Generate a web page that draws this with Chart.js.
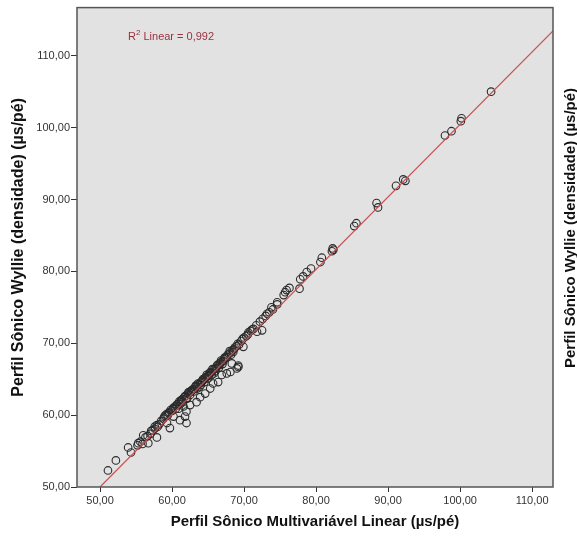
<!DOCTYPE html>
<html lang="en">
<head>
    <meta charset="UTF-8">
    <title>Perfil Sônico Wyllie x Multivariável</title>
    <style>
        body {
            margin: 0;
            background-color: #fff;
        }
        #wrap {
            width: 577px;
            height: 536px;
        }
    </style>
    <script src="https://cdn.jsdelivr.net/npm/chart.js"></script>
</head>
<body>
    <div id="wrap"><canvas id="scatterChart" width="577" height="536"></canvas></div>
    <script>
        // multivariate linear sonic (x) vs Wyllie density sonic (y)
        const sonicMulti = [
            51.1, 52.2, 53.9, 54.3, 55.3, 56.7, 57.9, 57.6, 59.7, 59.3,
            60.2, 60.9, 61.1, 61.8, 62.0, 62.0, 61.3, 61.6, 62.5, 63.4,
            63.9, 64.6, 65.3, 65.7, 66.4, 66.9, 67.6, 68.1, 68.3, 69.2,
            69.0, 69.2, 68.5, 69.9, 71.8, 72.5, 73.2, 73.8, 74.6, 75.5,
            75.7, 75.9, 76.3, 77.7, 77.8, 78.2, 78.7, 79.3, 80.6, 80.8,
            82.2, 82.3, 82.4, 85.3, 85.6, 88.4, 88.6, 91.1, 92.1, 92.4,
            97.9, 98.8, 100.1, 100.2, 104.3, 56.0,
            55.2, 55.6, 55.9, 56.3, 56.6, 57.0, 57.3, 57.6, 57.9, 58.2,
            58.5, 58.8, 59.0, 59.2, 59.4, 59.6, 59.8, 60.0, 60.2, 60.4,
            60.5, 60.7, 60.9, 61.0, 61.2, 61.4, 61.5, 61.7, 61.9, 62.0,
            62.2, 62.4, 62.5, 62.7, 62.9, 63.0, 63.2, 63.4, 63.5, 63.7,
            63.9, 64.0, 64.2, 64.4, 64.5, 64.7, 64.9, 65.0, 65.2, 65.4,
            65.5, 65.7, 65.9, 66.0, 66.2, 66.4, 66.5, 66.7, 66.9, 67.0,
            67.2, 67.4, 67.6, 67.9, 68.1, 68.4, 68.7, 69.0, 69.3, 69.6,
            70.0, 70.3, 70.6, 70.9, 71.3, 71.7, 72.2, 72.6, 73.0, 73.5,
            74.0, 74.6, 61.1, 62.1, 63.1, 64.1, 65.1, 66.1, 67.1, 62.6,
            64.6, 66.6, 68.2, 63.8, 65.8,
            57.1, 58.0, 58.9, 59.5, 60.1, 60.6, 61.3, 61.8, 62.3, 62.8,
            63.3, 63.6, 64.3, 64.8, 65.3, 65.6, 66.3, 66.8, 67.3, 67.7,
            68.0, 68.6, 69.1, 69.8, 70.5, 71.1
        ];
        const sonicWyllie = [
            52.3, 53.7, 55.5, 54.8, 56.1, 56.1, 56.9, 58.4, 58.2, 58.9,
            59.8, 60.9, 59.3, 59.8, 60.5, 58.9, 61.8, 61.2, 61.4, 61.8,
            62.5, 63.0, 63.7, 64.4, 64.6, 65.6, 65.8, 66.0, 67.2, 66.9,
            66.5, 66.7, 68.8, 69.5, 71.6, 71.8, 74.1, 75.0, 75.7, 76.7,
            77.1, 77.4, 77.7, 77.6, 78.9, 79.3, 79.9, 80.4, 81.3, 81.9,
            82.8, 83.2, 83.0, 86.3, 86.7, 89.5, 88.9, 91.9, 92.8, 92.6,
            98.9, 99.5, 100.9, 101.3, 105.0, 57.2,
            55.8, 56.3, 56.0, 56.9, 57.1, 57.4, 57.9, 58.1, 58.6, 58.7,
            59.2, 59.5, 59.9, 60.1, 60.0, 60.4, 60.7, 60.6, 61.0, 61.2,
            60.9, 61.5, 61.6, 61.9, 62.0, 62.2, 61.8, 62.5, 62.7, 62.4,
            63.0, 63.1, 62.8, 63.4, 63.6, 63.3, 63.9, 64.0, 63.7, 64.3,
            64.5, 64.2, 64.8, 64.9, 64.6, 65.3, 65.4, 65.1, 65.8, 65.9,
            65.6, 66.3, 66.4, 66.1, 66.8, 66.9, 66.6, 67.3, 67.4, 67.1,
            67.8, 67.9, 68.1, 68.5, 68.7, 69.0, 69.4, 69.6, 69.8, 70.3,
            70.8, 71.0, 71.5, 71.7, 72.0, 72.5, 73.0, 73.4, 73.8, 74.3,
            74.7, 75.4, 61.5, 62.3, 63.6, 64.6, 65.5, 66.5, 67.5, 63.3,
            65.1, 67.0, 68.4, 63.9, 65.8,
            57.8, 58.4, 59.7, 60.3, 60.9, 61.3, 62.1, 62.6, 63.2, 63.5,
            64.1, 64.4, 65.0, 65.6, 66.0, 66.4, 67.0, 67.6, 68.0, 68.4,
            68.9, 69.2, 69.9, 70.6, 71.2, 71.9
        ];

        // fit line end points (R2 linear)
        const fitX = [50.0, 112.9];
        const fitY = [50.0, 113.45];

        const xTicks = [50, 60, 70, 80, 90, 100, 110];
        const yTicks = [50, 60, 70, 80, 90, 100, 110];

        const points = sonicMulti.map((x, i) => ({ x: x, y: sonicWyllie[i] }));
        const fitPoints = fitX.map((x, i) => ({ x: x, y: fitY[i] }));

        const fmt = v => v.toFixed(2).replace('.', ',');
        const yTitle = 'Perfil Sônico Wyllie (densidade) (µs/pé)';

        // plot background, frame, R2 label, and the clipped title of the next chart
        const decor = {
            id: 'decor',
            beforeDatasetsDraw(chart) {
                const { ctx, chartArea: a } = chart;
                ctx.save();
                ctx.fillStyle = '#e2e2e2';
                ctx.fillRect(a.left, a.top, a.right - a.left, a.bottom - a.top);
                ctx.restore();
            },
            afterDatasetsDraw(chart) {
                const { ctx, chartArea: a } = chart;
                ctx.save();
                ctx.strokeStyle = '#555';
                ctx.lineWidth = 1.5;
                ctx.strokeRect(a.left, a.top, a.right - a.left, a.bottom - a.top);

                ctx.fillStyle = '#9b3040';
                ctx.textBaseline = 'alphabetic';
                ctx.font = '11px Arial, "Liberation Sans"';
                let x = 128;
                ctx.fillText('R', x, 40);
                x += ctx.measureText('R').width;
                ctx.font = '8px Arial, "Liberation Sans"';
                ctx.fillText('2', x, 35);
                x += ctx.measureText('2').width;
                ctx.font = '11px Arial, "Liberation Sans"';
                ctx.fillText(' Linear = 0,992', x, 40);

                ctx.translate(571, 228);
                ctx.rotate(-Math.PI / 2);
                ctx.fillStyle = '#111';
                ctx.font = 'bold 15px Arial, "Liberation Sans"';
                ctx.textAlign = 'center';
                ctx.textBaseline = 'middle';
                ctx.fillText(yTitle, 0, 0);
                ctx.restore();
            }
        };

        const ctx = document.getElementById('scatterChart').getContext('2d');
        new Chart(ctx, {
            type: 'scatter',
            data: {
                datasets: [{
                    type: 'line',
                    data: fitPoints,
                    borderColor: '#c8504f',
                    borderWidth: 1.2,
                    pointRadius: 0,
                    fill: false
                }, {
                    data: points,
                    pointStyle: 'circle',
                    pointRadius: 3.8,
                    borderColor: '#2b2b2b',
                    borderWidth: 1.1,
                    backgroundColor: 'rgba(0,0,0,0)'
                }]
            },
            options: {
                responsive: false,
                animation: false,
                layout: { padding: { top: 7, right: 24, left: 0, bottom: 0 } },
                plugins: {
                    legend: { display: false },
                    tooltip: { enabled: false }
                },
                scales: {
                    x: {
                        type: 'linear',
                        min: 46.8,
                        max: 112.9,
                        afterFit: s => { s.height = 49; },
                        afterBuildTicks: s => { s.ticks = xTicks.map(v => ({ value: v })); },
                        grid: { drawOnChartArea: false, drawTicks: true, tickLength: 5, color: '#333' },
                        border: { display: false },
                        ticks: {
                            padding: 2,
                            color: '#333',
                            font: { family: 'Arial, "Liberation Sans"', size: 11 },
                            callback: v => fmt(v)
                        },
                        title: {
                            display: true,
                            text: 'Perfil Sônico Multivariável Linear (µs/pé)',
                            color: '#111',
                            font: { family: 'Arial, "Liberation Sans"', size: 15, weight: 'bold' },
                            padding: { top: 0, bottom: 5 }
                        }
                    },
                    y: {
                        type: 'linear',
                        min: 50,
                        max: 116.7,
                        afterFit: s => { s.width = 77; },
                        afterBuildTicks: s => { s.ticks = yTicks.map(v => ({ value: v })); },
                        grid: { drawOnChartArea: false, drawTicks: true, tickLength: 6, color: '#333' },
                        border: { display: false },
                        ticks: {
                            padding: 1,
                            color: '#333',
                            font: { family: 'Arial, "Liberation Sans"', size: 11 },
                            callback: v => fmt(v)
                        },
                        title: {
                            display: true,
                            text: yTitle,
                            color: '#111',
                            font: { family: 'Arial, "Liberation Sans"', size: 16, weight: 'bold' },
                            padding: { top: 9, bottom: 0 }
                        }
                    }
                }
            },
            plugins: [decor]
        });
    </script>
</body>
</html>
